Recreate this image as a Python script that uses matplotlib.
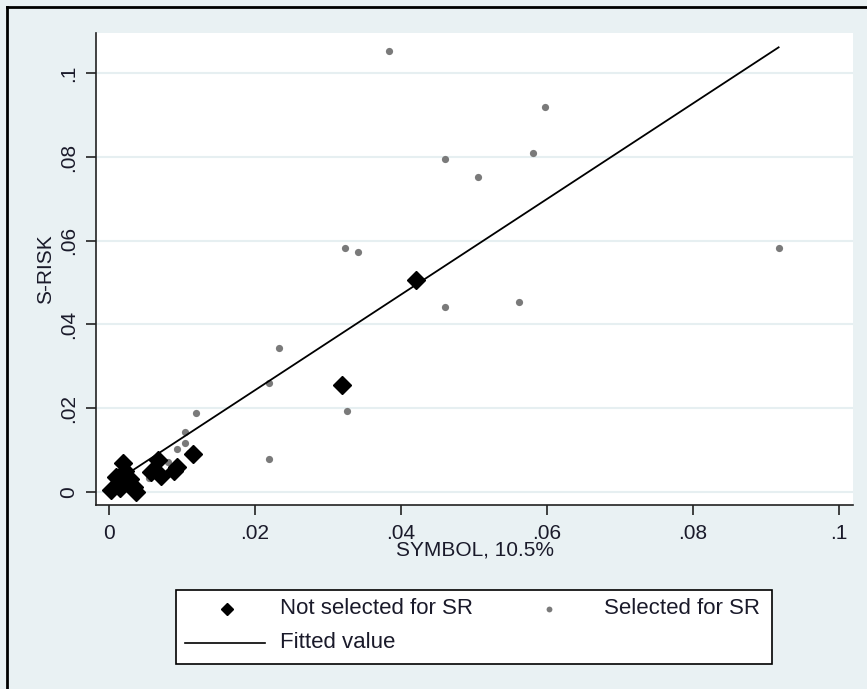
import numpy as np
import matplotlib
matplotlib.use("Agg")
import matplotlib.pyplot as plt
from matplotlib.lines import Line2D
from matplotlib.patches import Rectangle

plt.rcParams['font.family'] = ['Liberation Sans', 'DejaVu Sans']

# Not selected for SR (black diamonds)
ns_x = [0.0004, 0.0010, 0.0015, 0.0020, 0.0022, 0.0015, 0.0025, 0.0030, 0.0035,
        0.0038, 0.0058, 0.0067, 0.0072, 0.0090, 0.0093, 0.0115, 0.0320, 0.0421]
ns_y = [0.0005, 0.0035, 0.0010, 0.0068, 0.0050, 0.0025, 0.0020, 0.0030, 0.0012,
        0.0000, 0.0046, 0.0076, 0.0038, 0.0050, 0.0060, 0.0090, 0.0256, 0.0505]

# Selected for SR (grey dots)
s_x = [0.0056, 0.0081, 0.0093, 0.0104, 0.0104, 0.0110, 0.0119, 0.0219, 0.0233,
       0.0219, 0.0326, 0.0324, 0.0341, 0.0384, 0.0461, 0.0461, 0.0506, 0.0562,
       0.0581, 0.0597, 0.0917]
s_y = [0.0032, 0.0070, 0.0102, 0.0116, 0.0142, 0.0092, 0.0189, 0.0260, 0.0344,
       0.0078, 0.0192, 0.0582, 0.0572, 0.1053, 0.0796, 0.0442, 0.0753, 0.0454,
       0.0810, 0.0920, 0.0582]

x_ticks = [0, 0.02, 0.04, 0.06, 0.08, 0.1]
x_ticklabels = ['0', '.02', '.04', '.06', '.08', '.1']
y_ticks = [0, 0.02, 0.04, 0.06, 0.08, 0.1]
y_ticklabels = ['0', '.02', '.04', '.06', '.08', '.1']

legend_labels = ['Not selected for SR', 'Selected for SR', 'Fitted value']

# Fitted values from OLS of all points
all_x = np.array(ns_x + s_x)
all_y = np.array(ns_y + s_y)
slope, intercept = np.polyfit(all_x, all_y, 1)
fx = np.array([all_x.min(), all_x.max()])
fy = intercept + slope * fx

bg = '#e9f1f3'
txt = '#1a1a2a'
grey = '#7a7a7a'

W, H = 867, 689


def fx_(px):
    return px / W


def fy_(py):
    return 1 - py / H


fig = plt.figure(figsize=(W / 100, H / 100), dpi=100, facecolor=bg)
ax = fig.add_axes([fx_(96), fy_(505), (853 - 96) / W, (505 - 33) / H])
ax.set_facecolor('white')

ax.set_xlim(-0.00172, 0.10188)
ax.set_ylim(-0.00318, 0.10963)

for yt in y_ticks:
    ax.axhline(yt, color='#e6eff1', lw=1.5, zorder=0)

ax.plot(ns_x, ns_y, linestyle='none', marker='D', ms=9.3, color='black', zorder=3)
ax.plot(s_x, s_y, linestyle='none', marker='o', ms=5.2, color=grey, mec='none', zorder=2)
ax.plot(fx, fy, color='black', lw=1.3, zorder=4)

ax.set_xticks(x_ticks)
ax.set_xticklabels(x_ticklabels)
ax.set_yticks(y_ticks)
ax.set_yticklabels(y_ticklabels, rotation=90, va='center')

for side in ['top', 'right']:
    ax.spines[side].set_visible(False)
for side in ['left', 'bottom']:
    ax.spines[side].set_linewidth(1.2)
    ax.spines[side].set_color('#222222')

ax.tick_params(axis='both', direction='out', length=7, width=1.2, color='#222222',
               labelsize=15, labelcolor=txt)
ax.tick_params(axis='x', pad=7)
ax.tick_params(axis='y', pad=6)

ax.set_xlabel('SYMBOL, 10.5%', fontsize=15, color=txt, labelpad=-2)
ax.set_ylabel('S-RISK', fontsize=15, color=txt, labelpad=3)

# Legend box (drawn manually, Stata style)
lx0, lx1, ly0, ly1 = 176, 772, 590, 664
fig.add_artist(Rectangle((fx_(lx0), fy_(ly1)), (lx1 - lx0) / W, (ly1 - ly0) / H,
                         transform=fig.transFigure, facecolor='white',
                         edgecolor='black', lw=1.2))
row1, row2 = 609, 643
fig.add_artist(Line2D([fx_(227)], [fy_(row1)], marker='D', ms=6.5, color='black',
                      linestyle='none', transform=fig.transFigure))
fig.text(fx_(280), fy_(row1), legend_labels[0], fontsize=16, color=txt,
         ha='left', va='center')
fig.add_artist(Line2D([fx_(549)], [fy_(row1)], marker='o', ms=4.2, color=grey,
                      mec='none', linestyle='none', transform=fig.transFigure))
fig.text(fx_(760), fy_(row1), legend_labels[1], fontsize=16, color=txt,
         ha='right', va='center')
fig.add_artist(Line2D([fx_(185), fx_(265)], [fy_(row2), fy_(row2)], color='black',
                      lw=1.2, transform=fig.transFigure))
fig.text(fx_(280), fy_(row2), legend_labels[2], fontsize=16, color=txt,
         ha='left', va='center')

# outer frame (left and top edges visible)
fig.add_artist(Line2D([fx_(7), fx_(7)], [0, fy_(7)], color='black', lw=2,
                      transform=fig.transFigure))
fig.add_artist(Line2D([fx_(7), 1], [fy_(7), fy_(7)], color='black', lw=2,
                      transform=fig.transFigure))

fig.savefig('out.png', dpi=100, facecolor=bg)
